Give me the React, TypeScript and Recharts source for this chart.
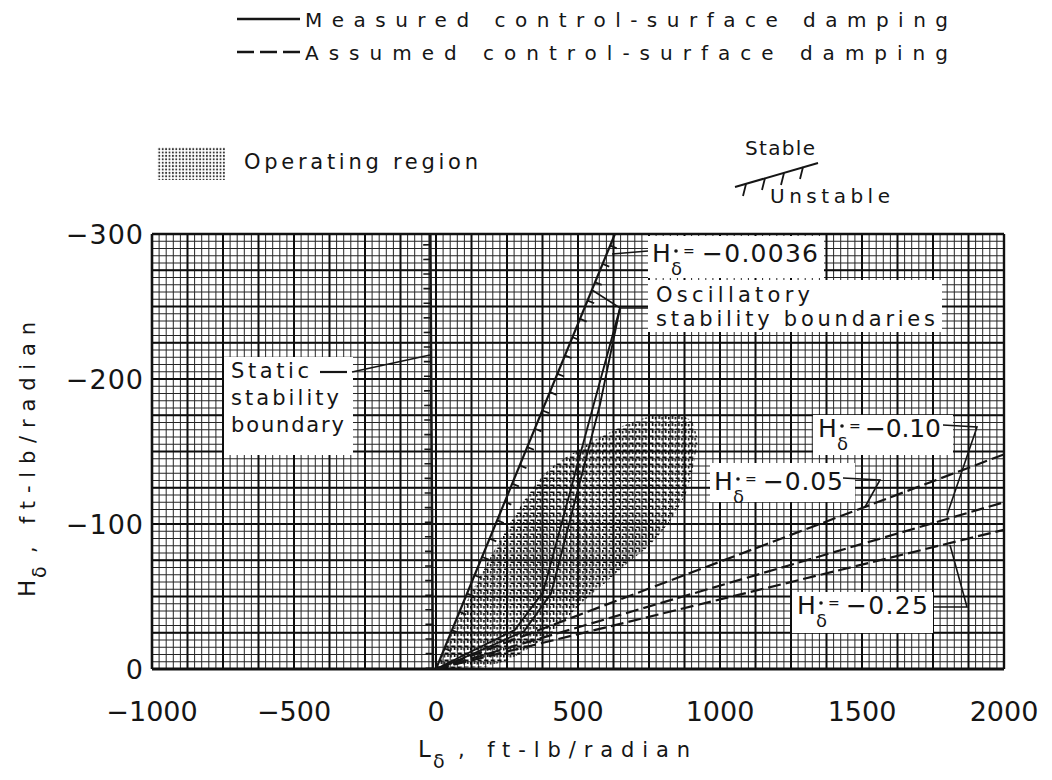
import { ComposedChart, XAxis, YAxis, CartesianGrid, Line, Area, ReferenceLine } from 'recharts';

const FONT = "'DejaVu Sans', sans-serif";
const INK = '#151515';

// axis ticks (grid spacing) and labelled values
const xGridTicks = Array.from({ length: 121 }, (_, i) => -1000 + i * 25);
const yGridTicks = Array.from({ length: 61 }, (_, i) => -300 + i * 5);
const xMajor = Array.from({ length: 25 }, (_, i) => -1000 + i * 125);
const yMajor = Array.from({ length: 13 }, (_, i) => -300 + i * 25);
const xLabels = [-1000, -500, 0, 500, 1000, 1500, 2000];
const yLabels = [-300, -200, -100, 0];

// static stability boundary (L_delta ~ 0)
const staticBoundary = [
  { L: -11, H: 0 },
  { L: -20, H: -300 },
];
const staticHatch = [
  { L: -24, H: 0 },
  { L: -33, H: -300 },
];

// measured damping, H_deltadot = -0.0036
const measured0036 = [
  { L: 0, H: 0 },
  { L: 630, H: -300 },
];
const measuredHatch = [
  { L: 14, H: 0 },
  { L: 644, H: -300 },
];

// other measured oscillatory boundaries
const measuredB = [
  { L: 0, H: 0 },
  { L: 278, H: -27 },
  { L: 377, H: -53 },
  { L: 556, H: -183 },
  { L: 648, H: -249 },
];
const measuredC = [
  { L: 7, H: 0 },
  { L: 310, H: -26 },
  { L: 405, H: -52 },
  { L: 577, H: -182 },
  { L: 648, H: -249 },
];

// assumed damping boundaries
const assumed005 = [
  { L: 0, H: 0 },
  { L: 2000, H: -148 },
];
const assumed010 = [
  { L: 0, H: 0 },
  { L: 2000, H: -115 },
];
const assumed025 = [
  { L: 0, H: 0 },
  { L: 2000, H: -96 },
];

// operating region, read as upper / lower edge at each L
const opL = [0, 50, 100, 150, 200, 250, 300, 350, 400, 450, 500, 550, 600, 650, 700, 750, 800, 850, 900, 920];
const opUpper = [0, -22, -43, -62, -80, -97, -113, -127, -138, -145, -151, -157, -162, -167, -171, -174, -175, -175, -171, -160];
const opLower = [0, 0, -1, -1, -3, -6, -11, -17, -24, -33, -43, -52, -60, -69, -77, -85, -96, -110, -134, -155];
const operatingRegion = opL.map((L, i) => ({ L, range: [opLower[i], opUpper[i]] }));

const fmt = (v: number) => (v < 0 ? '\u2212' + Math.abs(v) : String(v));

const XTick = ({ x, y, payload }: any) => {
  if (!xLabels.includes(payload.value)) return <g />;
  return (
    <text x={x} y={y + 52} textAnchor="middle" fontSize={27} fontFamily={FONT} fill={INK}>
      {fmt(payload.value)}
    </text>
  );
};

const YTick = ({ x, y, payload }: any) => {
  if (!yLabels.includes(payload.value)) return <g />;
  return (
    <text x={x - 8} y={y + 10} textAnchor="end" fontSize={27} letterSpacing={1} fontFamily={FONT} fill={INK}>
      {fmt(payload.value)}
    </text>
  );
};

const T = ({ x, y, size, len, children }: any) => (
  <text x={x} y={y} fontSize={size} textLength={len} lengthAdjust="spacing" fontFamily={FONT} fill={INK}>
    {children}
  </text>
);

const HDot = ({ hx, base, vx, len, value }: any) => (
  <g>
    <text x={hx} y={base} fontSize={25} fontFamily={FONT} fill={INK}>H</text>
    <text x={hx + 19} y={base + 13} fontSize={18} fontFamily={FONT} fill={INK}>δ</text>
    <circle cx={hx + 24} cy={base - 11} r={1.8} fill={INK} />
    <text x={hx + 31} y={base - 6} fontSize={14} fontFamily={FONT} fill={INK}>=</text>
    <T x={vx} y={base} size={25} len={len}>{value}</T>
  </g>
);

const Box = ({ x, y, w, h }: any) => <rect x={x} y={y} width={w} height={h} fill="#fff" />;

const Poly = ({ pts, w = 1.6 }: any) => (
  <polyline points={pts} fill="none" stroke={INK} strokeWidth={w} />
);

export default function App() {
  const line = (data: any[], key: string, extra: any = {}) => (
    <Line
      key={key}
      data={data}
      dataKey="H"
      type="linear"
      stroke={INK}
      strokeWidth={2}
      dot={false}
      activeDot={false}
      isAnimationActive={false}
      {...extra}
    />
  );

  return (
    <div style={{ position: 'relative', width: 1040, height: 764 }}>
      <ComposedChart width={1040} height={764} margin={{ top: 226, right: 44, bottom: 43, left: 44 }}>
        <defs>
          <pattern id="opDots" width="6.6" height="7" patternUnits="userSpaceOnUse">
            <path d="M0.8,1.2 h3.6 v3.8 M0.8,3 v2.6" fill="none" stroke="#0d0d0d" strokeWidth={1.6} />
          </pattern>
        </defs>
        <XAxis
          type="number"
          dataKey="L"
          domain={[-1000, 2000]}
          ticks={xGridTicks}
          interval={0}
          allowDataOverflow
          axisLine={false}
          tickLine={false}
          tickSize={0}
          tickMargin={0}
          height={60}
          tick={<XTick />}
        />
        <YAxis
          type="number"
          domain={[-300, 0]}
          reversed
          ticks={yGridTicks}
          interval={0}
          allowDataOverflow
          axisLine={false}
          tickLine={false}
          tickSize={0}
          tickMargin={0}
          width={100}
          tick={<YTick />}
        />
        <CartesianGrid stroke="#262626" strokeWidth={1} />
        {xMajor.map((v) => (
          <ReferenceLine key={'xm' + v} x={v} stroke="#0d0d0d" strokeWidth={2} />
        ))}
        {yMajor.map((v) => (
          <ReferenceLine key={'ym' + v} y={v} stroke="#0d0d0d" strokeWidth={2} />
        ))}
        <ReferenceLine x={-1000} stroke="#111" strokeWidth={2.6} />
        <ReferenceLine x={2000} stroke="#111" strokeWidth={2.4} />
        <ReferenceLine y={-300} stroke="#111" strokeWidth={2.4} />
        <ReferenceLine y={0} stroke="#111" strokeWidth={3.2} />

        <Area
          data={operatingRegion}
          dataKey="range"
          type="monotone"
          stroke="none"
          fill="url(#opDots)"
          fillOpacity={1}
          dot={false}
          activeDot={false}
          isAnimationActive={false}
        />

        {line(staticBoundary, 'static', { strokeWidth: 2.6 })}
        {line(staticHatch, 'staticHatch', { strokeWidth: 7, strokeDasharray: '1.6 13' })}
        {line(measured0036, 'm0036', { strokeWidth: 2.2 })}
        {line(measuredHatch, 'mHatch', { strokeWidth: 7, strokeDasharray: '1.8 18' })}
        {line(measuredB, 'mB', { strokeWidth: 1.9 })}
        {line(measuredC, 'mC', { strokeWidth: 1.9 })}
        {line(assumed005, 'a005', { strokeWidth: 2.2, strokeDasharray: '13 5' })}
        {line(assumed010, 'a010', { strokeWidth: 2.2, strokeDasharray: '13 5' })}
        {line(assumed025, 'a025', { strokeWidth: 2.2, strokeDasharray: '13 5' })}
      </ComposedChart>

      <svg
        width={1040}
        height={764}
        style={{ position: 'absolute', left: 0, top: 0, pointerEvents: 'none' }}
      >
        <defs>
          <pattern id="swatchDots" width="3.4" height="3.4" patternUnits="userSpaceOnUse">
            <circle cx="1.7" cy="1.7" r="1" fill="#333" />
          </pattern>
        </defs>

        {/* legend */}
        <line x1={229} y1={11} x2={292} y2={11} stroke={INK} strokeWidth={2.4} />
        <T x={297} y={19} size={20} len={643}>Measured control-surface damping</T>
        <line x1={229} y1={44} x2={292} y2={44} stroke={INK} strokeWidth={2.4} strokeDasharray="17 6" />
        <T x={297} y={52} size={20} len={643}>Assumed control-surface damping</T>

        <rect x={149} y={139} width={68} height={33} fill="url(#swatchDots)" />
        <T x={236} y={161} size={21} len={234}>Operating region</T>

        <T x={737} y={147} size={20} len={70}>Stable</T>
        <line x1={727} y1={179} x2={810} y2={155} stroke={INK} strokeWidth={2} />
        <Poly pts="738,176 735,188" w={1.8} />
        <Poly pts="757,170 754,182" w={1.8} />
        <Poly pts="776,165 773,177" w={1.8} />
        <Poly pts="795,159 792,171" w={1.8} />
        <T x={762} y={195} size={20} len={120}>Unstable</T>

        {/* static stability label */}
        <Box x={216} y={349} w={129} h={98} />
        <T x={223} y={370} size={21} len={78}>Static</T>
        <line x1={312} y1={364} x2={339} y2={364} stroke={INK} strokeWidth={2.2} />
        <Poly pts="344,364 422,347" />
        <T x={223} y={397} size={21} len={108}>stability</T>
        <T x={223} y={424} size={21} len={113}>boundary</T>

        {/* -0.0036 */}
        <Box x={640} y={228} w={176} h={42} />
        <HDot hx={644} base={254} vx={694} len={116} value={'\u22120.0036'} />
        <Poly pts="640,243 604,246" />

        {/* oscillatory boundaries */}
        <Box x={640} y={272} w={294} h={52} />
        <T x={648} y={294} size={21} len={154}>Oscillatory</T>
        <T x={648} y={318} size={21} len={279}>stability boundaries</T>
        <Poly pts="640,300 612,300 584,282" />

        {/* -0.10 */}
        <Box x={805} y={407} w={140} h={40} />
        <HDot hx={810} base={429} vx={857} len={76} value={'\u22120.10'} />
        <Poly pts="935,417 969,419 939,507" />

        {/* -0.05 */}
        <Box x={702} y={455} w={145} h={39} />
        <HDot hx={706} base={482} vx={755} len={80} value={'\u22120.05'} />
        <Poly pts="835,470 872,472 857,499" />

        {/* -0.25 */}
        <Box x={784} y={584} w={141} h={41} />
        <HDot hx={789} base={606} vx={838} len={82} value={'\u22120.25'} />
        <Poly pts="925,599 959,599 942,537" />

        {/* axis titles */}
        <text x={410} y={749} fontSize={23} fontFamily={FONT} fill={INK}>L</text>
        <text x={425} y={760} fontSize={19} fontFamily={FONT} fill={INK}>δ</text>
        <T x={450} y={749} size={21} len={232}>, ft-lb/radian</T>

        <g transform="translate(27,589) rotate(-90)">
          <text x={0} y={0} fontSize={23} fontFamily={FONT} fill={INK}>H</text>
          <text x={19} y={11} fontSize={19} fontFamily={FONT} fill={INK}>δ</text>
          <T x={44} y={0} size={21} len={231}>, ft-lb/radian</T>
        </g>
      </svg>
    </div>
  );
}
